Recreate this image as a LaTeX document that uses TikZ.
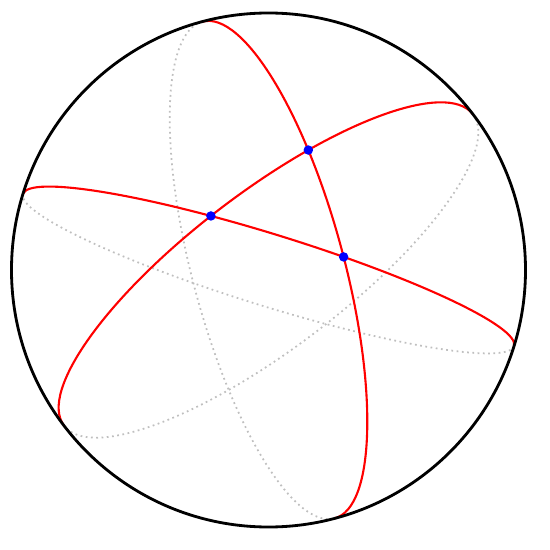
\documentclass[tikz,border=0pt]{standalone}
\usetikzlibrary{intersections}
\begin{document}
\begin{tikzpicture}[
    front/.style={red, line width=1.2pt},
    back/.style={gray!50, dotted, line width=1pt},
    dot/.style={circle, fill=blue, inner sep=0pt, minimum size=0.19cm},
]
    \useasboundingbox (-5.37,-5.6) rectangle (5.63,5.4);

    % Back halves of the great circles
    \draw[back, rotate=-17.2] (5.14,0) arc[start angle=0, end angle=-180, x radius=5.14, y radius=0.72];
    \draw[back, rotate=37.3] (5.14,0) arc[start angle=0, end angle=-180, x radius=5.14, y radius=1.56];
    \draw[back, rotate=104.9] (5.14,0) arc[start angle=0, end angle=180, x radius=5.14, y radius=1.52];

    % Front halves
    \draw[front, rotate=-17.2, name path=ga] (5.14,0) arc[start angle=0, end angle=180, x radius=5.14, y radius=0.72];
    \draw[front, rotate=37.3, name path=gb] (5.14,0) arc[start angle=0, end angle=180, x radius=5.14, y radius=1.56];
    \draw[front, rotate=104.9, name path=gc] (-5.14,0) arc[start angle=180, end angle=360, x radius=5.14, y radius=1.52];

    % Sphere outline
    \draw[line width=1.6pt] (0,0) circle (5.14);

    % Intersection points
    \path[name intersections={of=ga and gb, by=ab}];
    \path[name intersections={of=gb and gc, by=bc}];
    \path[name intersections={of=ga and gc, by=ac}];
    \node[dot] (pab) at (ab) {};
    \node[dot] (pbc) at (bc) {};
    \node[dot] (pac) at (ac) {};
\end{tikzpicture}
\end{document}
